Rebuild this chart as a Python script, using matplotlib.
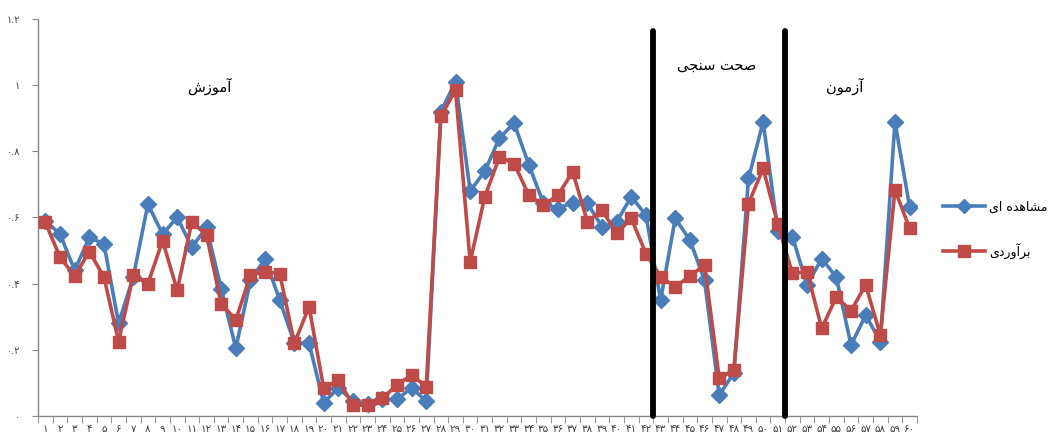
import matplotlib
matplotlib.use("Agg")
import matplotlib.pyplot as plt
import numpy as np
from matplotlib.lines import Line2D

plt.rcParams['font.family'] = ['DejaVu Sans']

# Sample index 1..60
samples = list(range(1, 61))

observed = [0.59, 0.55, 0.44, 0.54, 0.52, 0.28, 0.42, 0.64, 0.55, 0.60,
            0.51, 0.57, 0.385, 0.205, 0.41, 0.475, 0.35, 0.22, 0.22, 0.04,
            0.085, 0.045, 0.035, 0.05, 0.05, 0.085, 0.045, 0.92, 1.01, 0.68,
            0.74, 0.84, 0.885, 0.76, 0.643, 0.627, 0.645, 0.643, 0.572, 0.587,
            0.663, 0.607, 0.35, 0.597, 0.532, 0.41, 0.063, 0.13, 0.718, 0.889,
            0.56, 0.542, 0.396, 0.476, 0.419, 0.214, 0.305, 0.225, 0.889, 0.632]

estimated = [0.585, 0.48, 0.423, 0.497, 0.42, 0.225, 0.425, 0.40, 0.53, 0.38,
             0.587, 0.547, 0.34, 0.29, 0.426, 0.436, 0.43, 0.22, 0.33, 0.084,
             0.109, 0.033, 0.033, 0.053, 0.094, 0.124, 0.089, 0.906, 0.985, 0.466,
             0.663, 0.783, 0.763, 0.668, 0.637, 0.668, 0.738, 0.587, 0.622, 0.552,
             0.597, 0.491, 0.421, 0.39, 0.423, 0.456, 0.114, 0.139, 0.642, 0.748,
             0.58, 0.431, 0.436, 0.265, 0.36, 0.318, 0.396, 0.245, 0.683, 0.567]

# Section boundaries (after sample 42 and after sample 51)
boundaries = [42.5, 51.5]
boundary_top = 1.165

y_ticks = [0, 0.2, 0.4, 0.6, 0.8, 1.0, 1.2]

FA_DIGITS = str.maketrans("0123456789", "۰۱۲۳۴۵۶۷۸۹")


def fa_num(s):
    return str(s).translate(FA_DIGITS)


y_tick_labels = ["۰", "۰.۲", "۰.۴", "۰.۶", "۰.۸", "۱", "۱.۲"]
x_tick_labels = [fa_num(i) for i in samples]

# Persian labels written with contextual presentation forms in visual order
label_train = "\uFEB5\uFEAF\uFEEE\uFEE3\uFE81"                            # آموزش
label_valid = "\uFEF0\uFEA0\uFEE8\uFEB3 \uFE96\uFEA4\uFEBB"              # صحت سنجی
label_test = "\uFEE5\uFEEE\uFEE3\uFEAF\uFE81"                             # آزمون
label_obs = "\uFEEF\uFE8D \uFEE9\uFEAA\uFEEB\uFE8E\uFEB8\uFEE3"           # مشاهده ای
label_est = "\uFEEF\uFEA9\uFEAD\uFEED\uFE81\uFEAE\uFE91"                  # برآوردی

BLUE = "#4A7EBB"
RED = "#BE4B48"
AXIS_GRAY = "#868686"

fig = plt.figure(figsize=(10.57, 4.40), dpi=100)
ax = fig.add_axes([0.036, 0.0545, 0.8315, 0.9025])

ax.plot(samples, observed, color=BLUE, lw=2.6, marker="D", ms=8.5,
        markeredgecolor=BLUE, zorder=3)
ax.plot(samples, estimated, color=RED, lw=2.6, marker="s", ms=9,
        markeredgecolor=RED, zorder=4)

for b in boundaries:
    ax.plot([b, b], [0, boundary_top], color="black", lw=4.2,
            solid_capstyle="round", zorder=5, clip_on=False)

ax.set_xlim(0.5, 60.5)
ax.set_ylim(0, 1.2)

ax.set_yticks(y_ticks)
ax.set_yticklabels(y_tick_labels, fontsize=7, color="#404040")
ax.set_xticks(samples)
ax.set_xticklabels(x_tick_labels, fontsize=7.5, color="#404040")
ax.tick_params(axis="x", which="major", length=0, pad=6)
ax.set_xticks(np.arange(0.5, 61, 1.0), minor=True)
ax.tick_params(axis="x", which="minor", length=5, color=AXIS_GRAY, direction="out")
ax.tick_params(axis="y", length=4, color=AXIS_GRAY, direction="out", pad=9)

for side in ("top", "right"):
    ax.spines[side].set_visible(False)
for side in ("left", "bottom"):
    ax.spines[side].set_color(AXIS_GRAY)
    ax.spines[side].set_linewidth(1.0)

ax.text(12.2, 0.995, label_train, fontsize=10.5, ha="center", va="center")
ax.text(46.8, 1.06, label_valid, fontsize=10.5, ha="center", va="center")
ax.text(55.6, 0.995, label_test, fontsize=10.5, ha="center", va="center")

handles = [
    Line2D([], [], color=BLUE, lw=2.6, marker="D", ms=7, markeredgecolor=BLUE),
    Line2D([], [], color=RED, lw=2.6, marker="s", ms=8, markeredgecolor=RED),
]
fig.legend(handles, [label_obs, label_est], loc="center left",
           bbox_to_anchor=(0.892, 0.478), frameon=False, fontsize=9,
           borderpad=0, borderaxespad=0,
           handlelength=3.4, handletextpad=0.3, labelspacing=2.3)

fig.savefig("out.png", dpi=100)
